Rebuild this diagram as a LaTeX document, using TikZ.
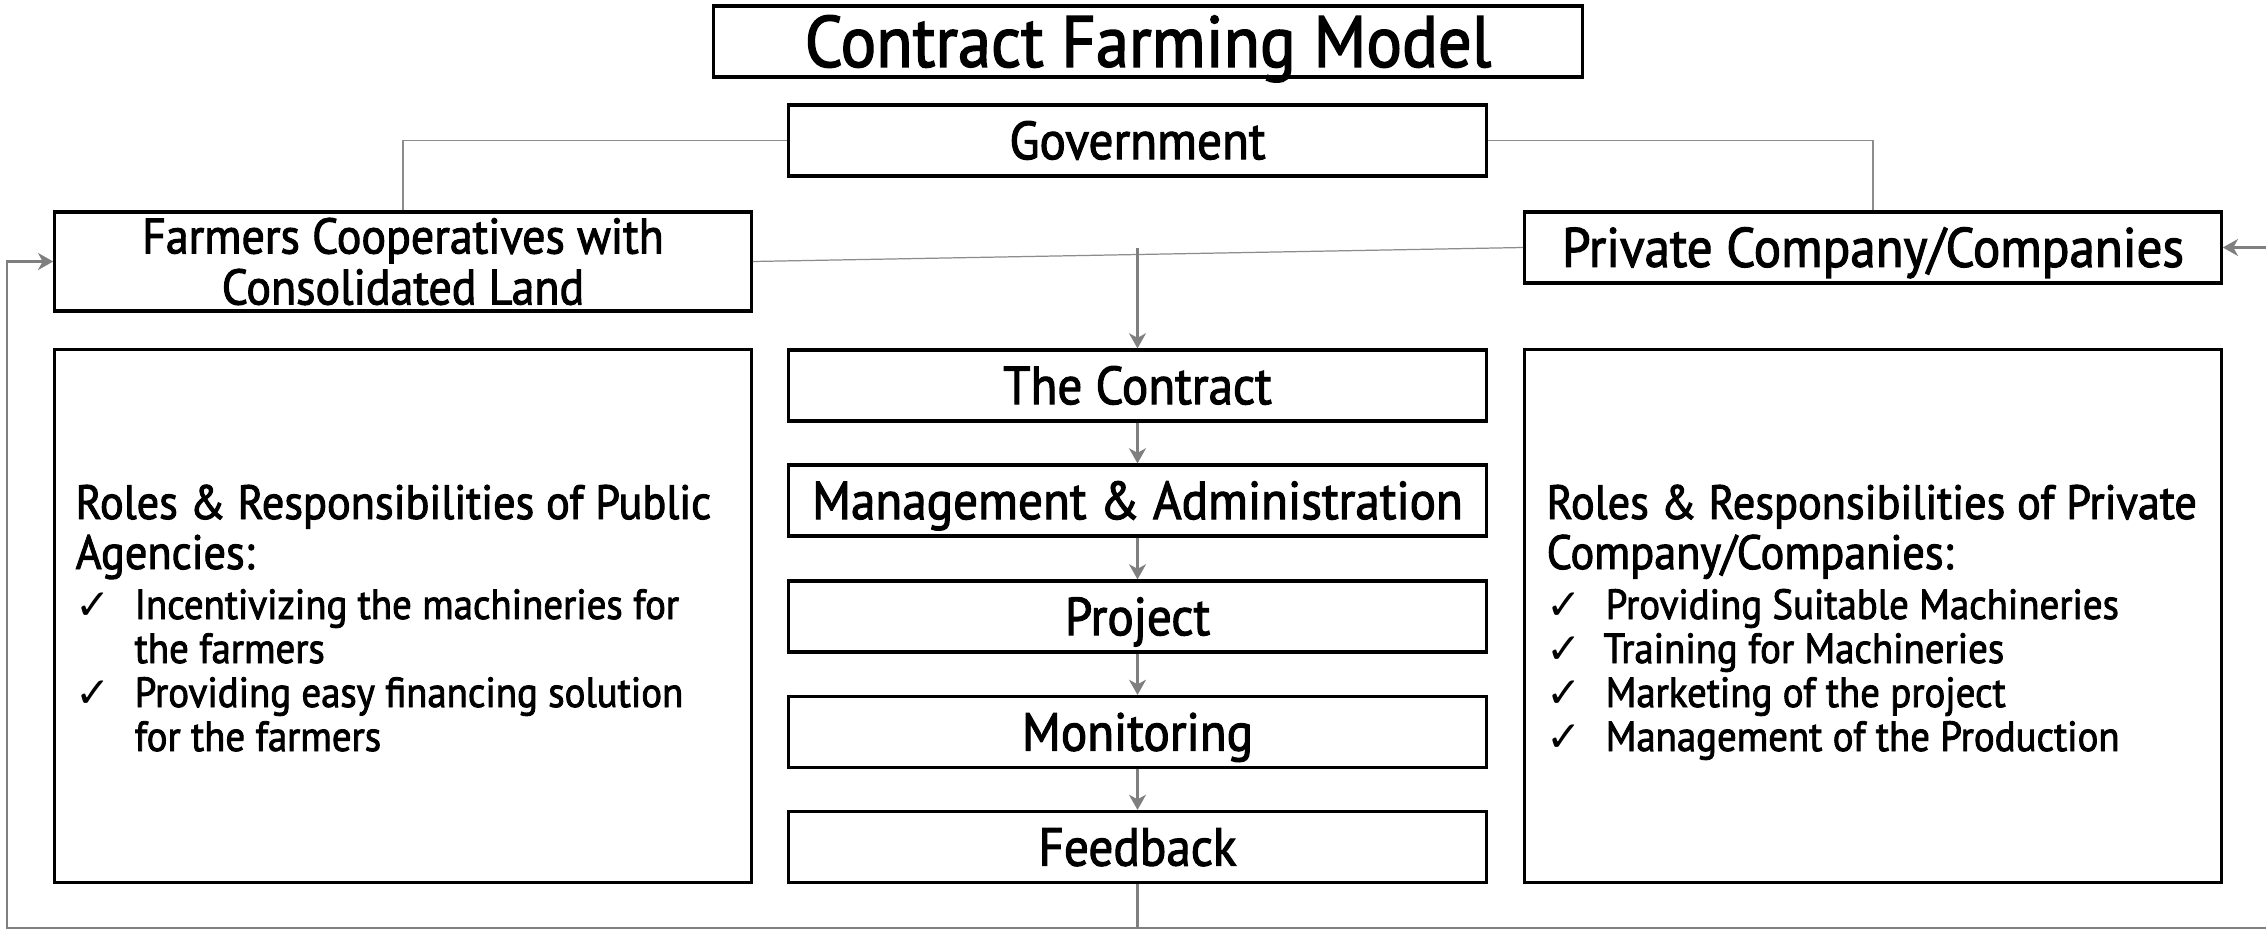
\documentclass[tikz,border=0pt]{standalone}
\usepackage{fontspec}
\setmainfont{PT Sans}[FakeStretch=0.92,FakeBold=2]
\newfontfamily\symfont{DejaVu Sans}
\usetikzlibrary{arrows.meta,calc}
\definecolor{connc}{HTML}{7F7F7F}
\definecolor{thinc}{HTML}{8C8C8C}
\begin{document}
\begin{tikzpicture}[x=0.01cm,y=-0.01cm,
  box/.style={draw=black,line width=0.9pt,inner sep=0pt,align=center,font=\fontsize{15.2}{15.5}\selectfont},
  capbox/.style={box,text height=10.6pt,text depth=0pt},
  side/.style={minimum width=6.96cm},
  mid/.style={capbox,minimum width=6.97cm,minimum height=0.71cm},
  thin/.style={draw=thinc,line width=0.35pt},
  conn/.style={draw=connc,line width=0.7pt},
  arr/.style={conn,-{Stealth[length=4.3pt,width=4.8pt,inset=1.3pt]}},
  head/.style={anchor=base west,inner sep=0pt,font=\fontsize{13.7}{15}\selectfont},
  itm/.style={anchor=base west,inner sep=0pt,font=\fontsize{12}{13}\selectfont},
  chk/.style={anchor=base west,inner sep=0pt,font=\symfont\fontsize{12}{13}\selectfont}]
\useasboundingbox (0,0) rectangle (2266,930);
\fill[white] (0,0) rectangle (2266,930);

% title and top boxes
\node[capbox,minimum width=8.68cm,minimum height=0.71cm,font=\fontsize{20.6}{21}\selectfont,text height=14.4pt] (title) at (1148,41.5) {Contract Farming Model};
\node[mid] (gov) at (1137.5,140.5) {Government};
\node[box,side,minimum height=0.99cm,font=\fontsize{14.2}{14.5}\selectfont] (farm) at (403,261.5) {Farmers Cooperatives with\\Consolidated Land};
\node[capbox,side,minimum height=0.71cm,font=\fontsize{15.8}{16}\selectfont,text height=11pt] (priv) at (1873,247.5) {Private Company/Companies};

% big side boxes
\node[box,side,minimum height=5.32cm] (lbox) at (403,616) {};
\node[box,side,minimum height=5.32cm] (rbox) at (1873,616) {};

% central chain
\node[mid] (contract) at (1137.5,385.5) {The Contract};
\node[mid] (mgmt) at (1137.5,500.5) {Management \& Administration};
\node[mid] (proj) at (1137.5,616.5) {Project};
\node[mid] (mon) at (1137.5,732) {Monitoring};
\node[mid] (fb) at (1137.5,847) {Feedback};

% left list
\node[head] (l1) at (75,519) {Roles \& Responsibilities of Public};
\node[head] (l2) at (75,569) {Agencies:};
\node[chk] (lc1) at (75,619) {✓};
\node[itm] (l3) at (134,619) {Incentivizing the machineries for};
\node[itm] (l4) at (134,663) {the farmers};
\node[chk] (lc2) at (75,707) {✓};
\node[itm] (l5) at (134,707) {Providing easy financing solution};
\node[itm] (l6) at (134,751) {for the farmers};

% right list
\node[head] (r1) at (1546,519) {Roles \& Responsibilities of Private};
\node[head] (r2) at (1546,569) {Company/Companies:};
\node[chk] (rc1) at (1546,619) {✓};
\node[itm] (r3) at (1605,619) {Providing Suitable Machineries};
\node[chk] (rc2) at (1546,663) {✓};
\node[itm] (r4) at (1603,663) {Training for Machineries};
\node[chk] (rc3) at (1546,707) {✓};
\node[itm] (r5) at (1605,707) {Marketing of the project};
\node[chk] (rc4) at (1546,751) {✓};
\node[itm] (r6) at (1605,751) {Management of the Production};

% connectors
\draw[thin] (gov.west) -| (farm.north);
\draw[thin] (gov.east) -| (priv.north);
\draw[thin] (farm.east) -- (priv.west);
\coordinate (tap) at ($(farm.east)!(contract.north)!(priv.west)$);
\draw[arr] ([yshift=0.07cm]contract.north |- tap) -- (contract.north);
\draw[arr] (contract) -- (mgmt);
\draw[arr] (mgmt) -- (proj);
\draw[arr] (proj) -- (mon);
\draw[arr] (mon) -- (fb);

\coordinate (bl) at (7,928);
\coordinate (br) at (2272,928);
\draw[arr] (fb.south) |- (bl) |- (farm.west);
\draw[arr] (fb.south) |- (br) |- (priv.east);
\end{tikzpicture}
\end{document}
